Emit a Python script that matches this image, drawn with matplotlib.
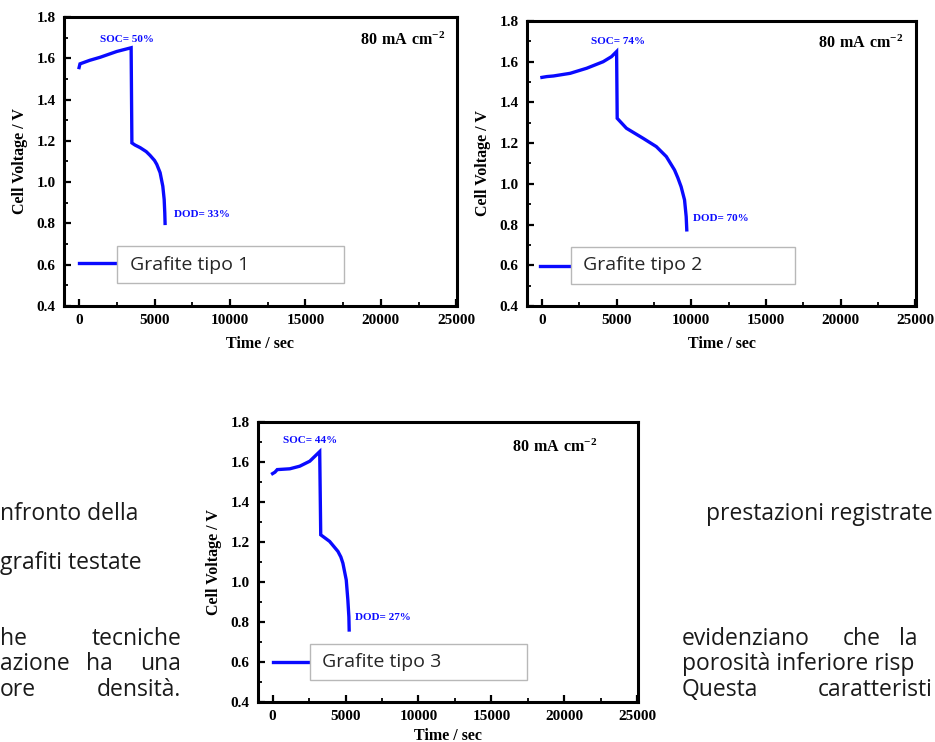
import matplotlib
matplotlib.use('Agg')
import matplotlib.pyplot as plt
from matplotlib.ticker import MultipleLocator, FormatStrFormatter
from matplotlib.patches import Rectangle

# Curve data (time in s, voltage in V)
t1 = [0, 60, 700, 1400, 2500, 3450, 3500, 3700, 4050, 4450, 4700, 5000, 5150, 5370, 5550, 5640, 5680, 5700]
v1 = [1.555, 1.573, 1.590, 1.605, 1.633, 1.651, 1.190, 1.180, 1.167, 1.148, 1.130, 1.105, 1.086, 1.046, 0.980, 0.916, 0.851, 0.800]

t2 = [0, 330, 780, 1890, 3000, 4100, 4660, 5000, 5040, 5660, 6770, 7660, 8330, 8880, 9100, 9320, 9550, 9660, 9700]
v2 = [1.523, 1.527, 1.530, 1.543, 1.568, 1.600, 1.625, 1.650, 1.322, 1.273, 1.224, 1.183, 1.134, 1.068, 1.030, 0.986, 0.921, 0.839, 0.774]

t3 = [0, 160, 320, 1180, 1860, 2550, 3230, 3300, 3910, 4480, 4680, 4820, 5050, 5160, 5230, 5250]
v3 = [1.542, 1.549, 1.562, 1.566, 1.579, 1.604, 1.652, 1.236, 1.203, 1.153, 1.125, 1.094, 1.010, 0.910, 0.826, 0.760]

times = [t1, t2, t3]
volts = [v1, v2, v3]
names = ['Grafite tipo 1', 'Grafite tipo 2', 'Grafite tipo 3']
soc_labels = ['SOC= 50%', 'SOC= 74%', 'SOC= 44%']
dod_labels = ['DOD= 33%', 'DOD= 70%', 'DOD= 27%']

serif = 'Liberation Serif'
plt.rcParams['mathtext.fontset'] = 'custom'
plt.rcParams['mathtext.rm'] = serif
plt.rcParams['mathtext.bf'] = serif + ':bold'

W, H = 935, 742
fig = plt.figure(figsize=(W / 100, H / 100), dpi=100)
fig.patch.set_facecolor('white')


def px_axes(left, top, right, bottom):
    return fig.add_axes([left / W, 1 - bottom / H, (right - left) / W, (bottom - top) / H])


blue = '#0a0aff'

axes = [px_axes(64, 17, 457, 306), px_axes(527, 21, 916, 306), px_axes(258, 422, 638, 702)]

# annotation positions (data coords) and legend box (data coords)
soc_pos = [(1390, 1.693), (3290, 1.697), (700, 1.708)]
dod_pos = [(6300, 0.841), (10090, 0.832), (5680, 0.823)]
box = [(2520, 17530), (1920, 16950), (2550, 17470)]
box_y = [(0.511, 0.691), (0.51, 0.689), (0.51, 0.690)]
leg_x0 = [0, -150, 0]
leg_y = [0.61, 0.595, 0.6]
mA_pos = [(0.97, 0.924), (0.967, 0.926), (0.894, 0.913)]
xpad = [6, 6, 3]

for i, ax in enumerate(axes):
    ax.plot(times[i], volts[i], color=blue, lw=2.4, solid_joinstyle='miter')
    ax.set_xlim(-1000, 25050)
    ax.set_ylim(0.4, 1.8)
    ax.xaxis.set_major_locator(MultipleLocator(5000))
    ax.xaxis.set_minor_locator(MultipleLocator(2500))
    ax.yaxis.set_major_locator(MultipleLocator(0.2))
    ax.yaxis.set_minor_locator(MultipleLocator(0.1))
    ax.yaxis.set_major_formatter(FormatStrFormatter('%.1f'))
    ax.tick_params(which='both', direction='in', top=False, right=False)
    ax.tick_params(which='major', length=5, width=1.6, pad=6)
    ax.tick_params(which='minor', length=3, width=1.3)
    for lab in ax.get_xticklabels() + ax.get_yticklabels():
        lab.set_fontfamily(serif)
        lab.set_fontweight('bold')
        lab.set_fontsize(11)
    for s in ax.spines.values():
        s.set_linewidth(2.2)
    ax.set_xlabel('Time / sec', fontfamily=serif, fontweight='bold', fontsize=11.5, labelpad=xpad[i])
    ax.set_ylabel('Cell Voltage / V', fontfamily=serif, fontweight='bold', fontsize=11.5, labelpad=6)

    ax.text(soc_pos[i][0], soc_pos[i][1], soc_labels[i], color=blue, fontfamily=serif,
            fontweight='bold', fontsize=8, va='center')
    ax.text(dod_pos[i][0], dod_pos[i][1], dod_labels[i], color=blue, fontfamily=serif,
            fontweight='bold', fontsize=8, va='center')
    ax.text(mA_pos[i][0], mA_pos[i][1], r'$\mathbf{80\ mA\ cm^{-2}}$', transform=ax.transAxes,
            ha='right', va='center', fontsize=11.5)

    # legend: line sticking out of a plain box
    ax.plot([leg_x0[i], box[i][0]], [leg_y[i], leg_y[i]], color=blue, lw=2.4)
    ax.add_patch(Rectangle((box[i][0], box_y[i][0]), box[i][1] - box[i][0], box_y[i][1] - box_y[i][0],
                           facecolor='white', edgecolor='#b8b8b8', lw=1.0, zorder=3))
    ax.text(box[i][0] + 850, (box_y[i][0] + box_y[i][1]) / 2, names[i], fontfamily='Open Sans',
            fontsize=14, color='#262626', va='center', zorder=4)

# page text around the charts
txt = dict(fontfamily='Open Sans', fontsize=16.5, color='#1a1a1a', va='baseline')


def put(x, y, s, ha='left'):
    fig.text(x / W, 1 - y / H, s, ha=ha, **txt)


put(0, 520, 'nfronto della')
put(0, 569, 'grafiti testate')
put(0, 645, 'he')
put(181, 645, 'tecniche', ha='right')
put(0, 670, 'azione')
put(86, 670, 'ha')
put(181, 670, 'una', ha='right')
put(0, 696, 'ore')
put(181, 696, 'densità.', ha='right')

put(933, 520, 'prestazioni registrate', ha='right')
put(682, 645, 'evidenziano')
put(843, 645, 'che')
put(899, 645, 'la')
put(682, 670, 'porosità inferiore risp')
put(682, 696, 'Questa')
put(933, 696, 'caratteristi', ha='right')

plt.savefig('out.png', dpi=100)
